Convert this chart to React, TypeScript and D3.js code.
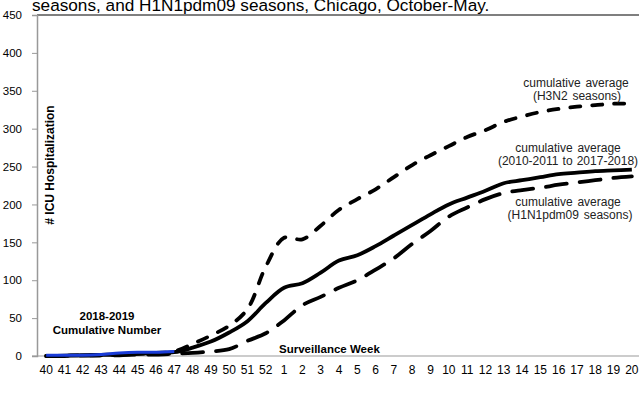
import React, { useEffect, useRef } from 'react'
import * as d3 from 'd3'

// surveillance weeks, October (40) to May (20)
const weeks = ['40', '41', '42', '43', '44', '45', '46', '47', '48', '49', '50', '51', '52',
  '1', '2', '3', '4', '5', '6', '7', '8', '9', '10', '11', '12', '13', '14', '15', '16', '17', '18', '19', '20']

const avgAll = [0, 0.5, 1, 1.5, 2, 3, 4, 5, 11, 19, 31, 46, 70,
  90, 96, 110, 126, 133, 145, 159, 173, 187, 200, 209, 218, 228, 232, 236, 240, 242, 244, 245, 246]

const avgH3N2 = [0, 0.5, 1, 1, 2, 3, 4, 6, 16, 27, 40, 62, 118,
  156, 154, 172, 193, 207, 220, 236, 252, 265, 277, 289, 298, 309, 316, 322, 326, 329, 331, 333, 333]

const avgH1N1 = [0, 0, 0.5, 1, 1, 2, 2, 3, 4, 6, 9, 20, 30,
  47, 67, 78, 90, 100, 114, 129, 148, 165, 184, 196, 207, 215, 219, 222, 226, 229, 232, 235, 237]

// 2018-2019 season so far
const season1819 = [1, 1, 1, 2, 4, 5, 5, 6]

const yTicks = [0, 50, 100, 150, 200, 250, 300, 350, 400, 450]

const FONT = 'Arial, "Liberation Sans", sans-serif'

function App() {
  const ref = useRef<SVGSVGElement>(null)

  useEffect(() => {
    drawChart(ref.current as SVGSVGElement)
  }, [])

  return (
    <svg ref={ref} width={639} height={415}
      style={{ position: 'absolute', left: 0, top: 0, background: '#fff' }} />
  )
}

function drawChart(node: SVGSVGElement) {
  const svg = d3.select(node)
  svg.selectAll('*').remove()

  const x = d3.scaleBand().domain(weeks).range([37, 641]).padding(0)
  const y = d3.scaleLinear().domain([0, 450]).range([356, 15])
  const cx = (w: string) => (x(w) as number) + x.bandwidth() / 2

  // title (cut off at the top of the picture)
  svg.append('text')
    .attr('x', 32).attr('y', 10.5)
    .attr('font-family', FONT).attr('font-size', 17.2)
    .text('seasons, and H1N1pdm09 seasons, Chicago, October-May.')

  // top border
  svg.append('line')
    .attr('x1', 37).attr('x2', 639).attr('y1', y(450)).attr('y2', y(450))
    .attr('stroke', '#000').attr('stroke-width', 1.2)

  // y axis
  const yAxis = d3.axisLeft(y).tickValues(yTicks).tickSize(5).tickPadding(10)
  const gy = svg.append('g').attr('transform', 'translate(37,0)').call(yAxis)
  gy.select('.domain').attr('stroke', '#999').attr('stroke-width', 1.5)
  gy.selectAll('.tick line').attr('stroke', '#999')
  gy.selectAll('.tick text').attr('font-family', FONT).attr('font-size', 11.5).attr('fill', '#000')

  // x axis
  const xAxis = d3.axisBottom(x).tickSize(0).tickPadding(9.5)
  const gx = svg.append('g').attr('transform', 'translate(0,356)').call(xAxis)
  gx.select('.domain').remove()
  gx.selectAll('.tick text').attr('font-family', FONT).attr('font-size', 12).attr('fill', '#000')
  svg.append('line')
    .attr('x1', 32).attr('x2', 639).attr('y1', 356).attr('y2', 356)
    .attr('stroke', '#999').attr('stroke-width', 1.2)

  // y axis title
  svg.append('text')
    .attr('transform', 'translate(54,165) rotate(-90)')
    .attr('text-anchor', 'middle')
    .attr('font-family', FONT).attr('font-size', 12).attr('font-weight', 'bold')
    .text('# ICU Hospitalization')

  const line = d3.line<number>()
    .x((d, i) => cx(weeks[i]))
    .y(d => y(d))
    .curve(d3.curveCatmullRom.alpha(0.5))

  svg.append('path').datum(avgH3N2)
    .attr('d', line).attr('fill', 'none').attr('stroke', '#000')
    .attr('stroke-width', 3.8).attr('stroke-linecap', 'round')
    .attr('stroke-dasharray', '10,12')

  svg.append('path').datum(avgH1N1)
    .attr('d', line).attr('fill', 'none').attr('stroke', '#000')
    .attr('stroke-width', 3.8).attr('stroke-linecap', 'round')
    .attr('stroke-dasharray', '21,13')

  svg.append('path').datum(avgAll)
    .attr('d', line).attr('fill', 'none').attr('stroke', '#000')
    .attr('stroke-width', 3.8)

  svg.append('path').datum(season1819)
    .attr('d', line).attr('fill', 'none').attr('stroke', '#1a3cd8')
    .attr('stroke-width', 3)

  // annotations
  const note = (tx: number, ty: number, txt: string, bold = false, anchor = 'middle', size = 12, ws = 1.5) => {
    svg.append('text')
      .attr('x', tx).attr('y', ty)
      .attr('text-anchor', anchor)
      .attr('font-family', FONT).attr('font-size', size)
      .attr('font-weight', bold ? 'bold' : 'normal')
      .attr('word-spacing', bold ? 0 : ws)
      .attr('fill', bold ? '#000' : '#222')
      .text(txt)
  }

  note(107, 320, '2018-2019', true, 'middle', 11.5)
  note(107, 334, 'Cumulative Number', true, 'middle', 11.5)
  note(279, 352.5, 'Surveillance Week', true, 'start', 11.5)

  note(576, 87, 'cumulative average')
  note(577, 100, '(H3N2 seasons)')
  note(568, 151.5, 'cumulative average')
  note(568, 165, '(2010-2011 to 2017-2018)', false, 'middle', 12, 0.8)
  note(568, 206, 'cumulative average')
  note(570, 219, '(H1N1pdm09 seasons)')
}

export default App
